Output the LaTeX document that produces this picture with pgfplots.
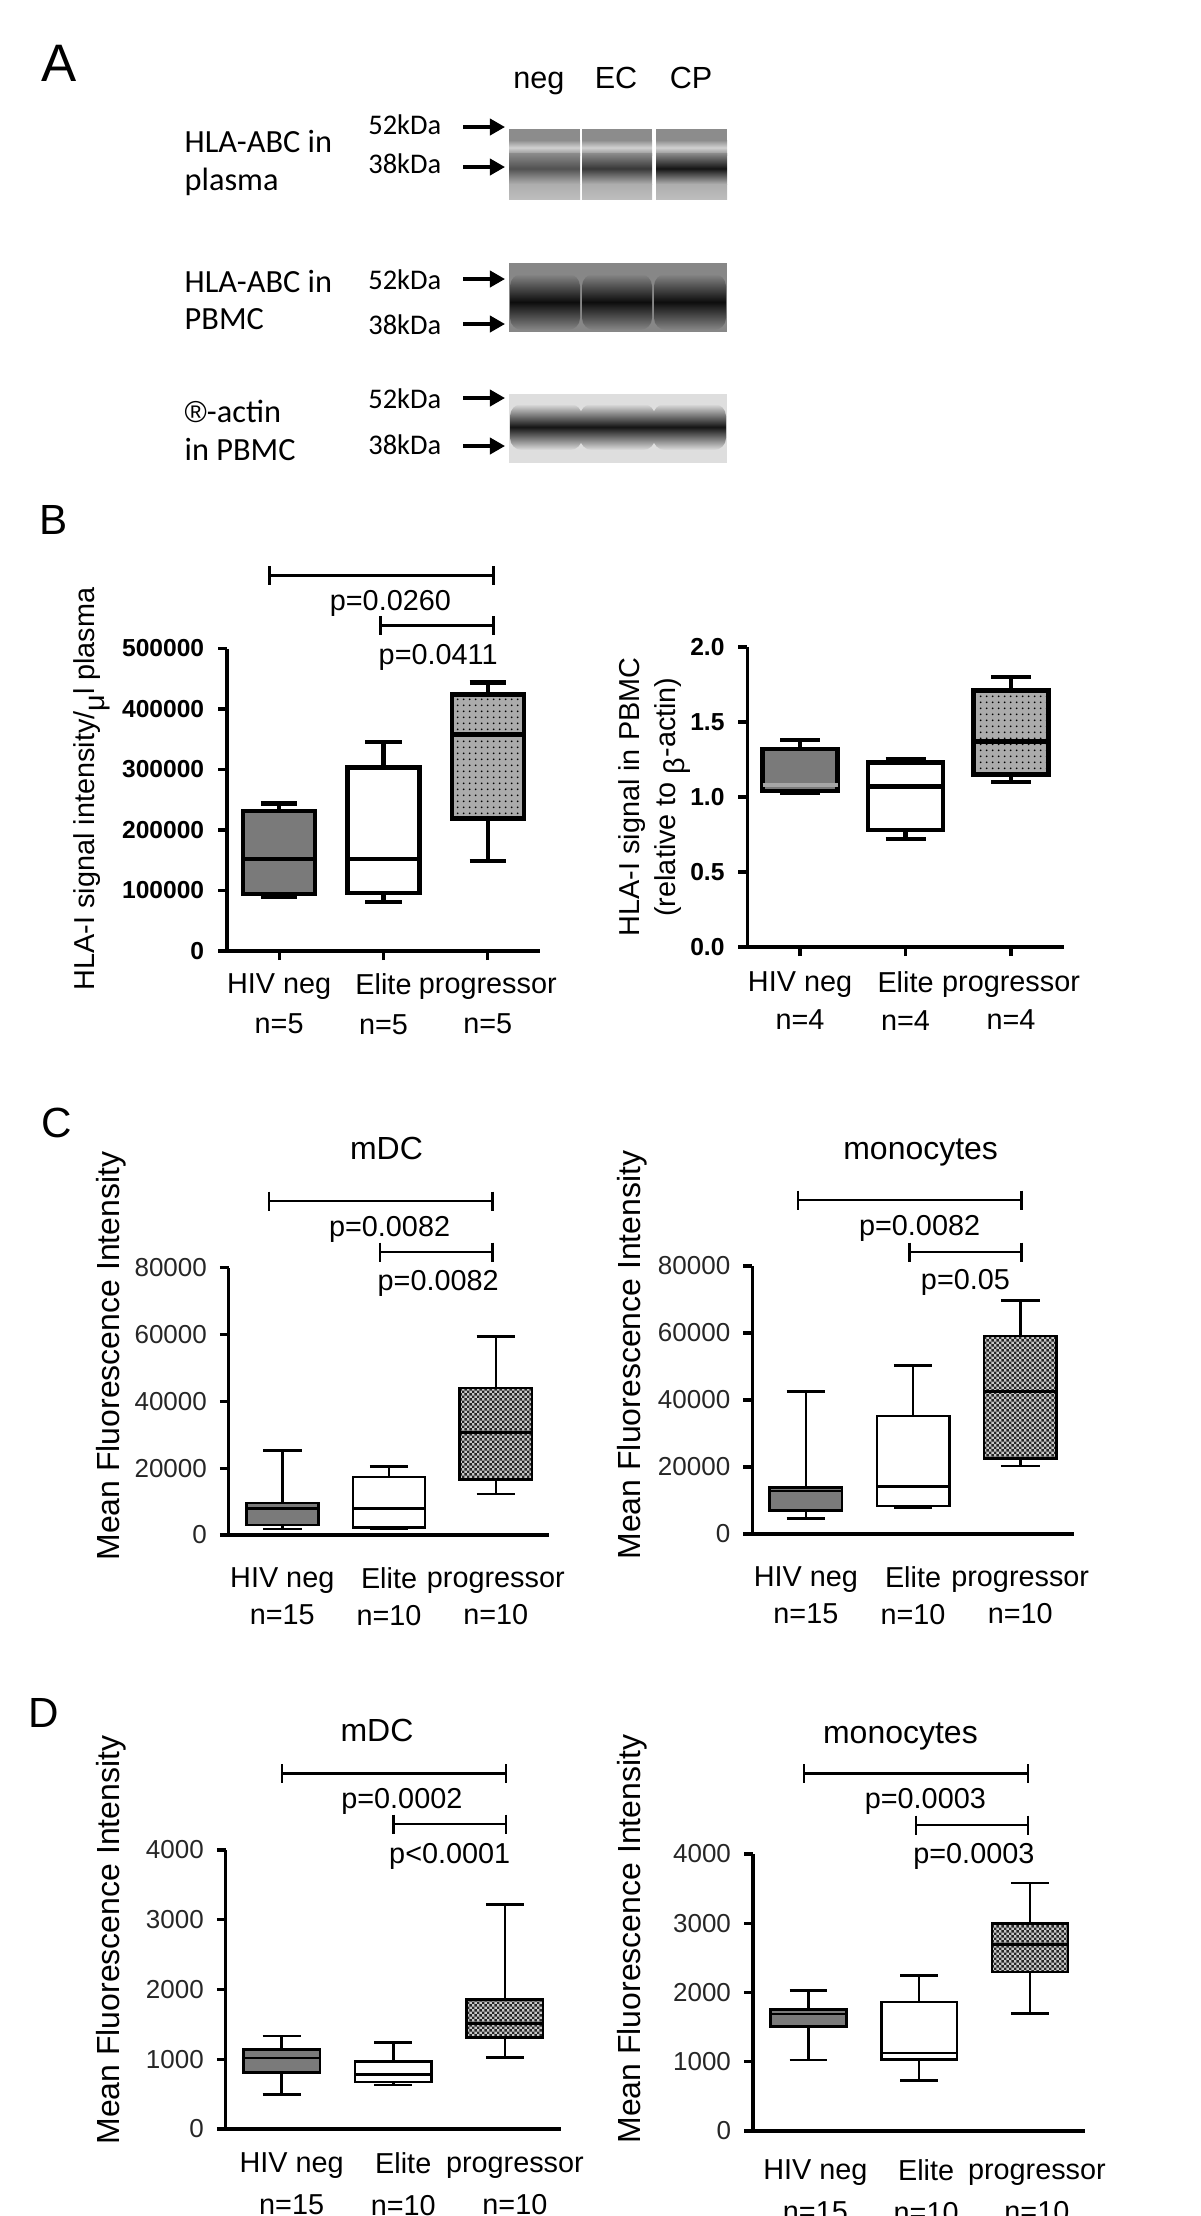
\documentclass[border=0pt]{standalone}
\usepackage{fontspec}
\setmainfont{Liberation Sans}
\newfontfamily\carlito{Carlito}
\usepackage{pgfplots}
\pgfplotsset{compat=1.18}
\usepgfplotslibrary{statistics}
\usetikzlibrary{arrows.meta,patterns.meta}

\tikzdeclarepattern{name=finedots, type=uncolored,
  bounding box={(0,0) and (1.6pt,1.6pt)}, tile size={(1.6pt,1.6pt)},
  code={\fill (0.8pt,0.8pt) circle (0.3pt);}}
\tikzdeclarepattern{name=checker, type=uncolored,
  bounding box={(0,0) and (1.4pt,1.4pt)}, tile size={(1.4pt,1.4pt)},
  code={\fill (0,0) rectangle (0.7pt,0.7pt); \fill (0.7pt,0.7pt) rectangle (1.4pt,1.4pt);}}

\pgfplotsset{
  prism/.style={
    scale only axis, clip=false,
    axis lines=left,
    axis line style={-, line width=0.9pt},
    xmin=0.5, xmax=3.5, ymin=0,
    xtick={1,2,3},
    tick align=outside,
    major tick length=0.09cm,
    tick style={black, line width=0.9pt},
    scaled y ticks=false,
    /pgf/number format/fixed,
    /pgf/number format/1000 sep={},
    /pgf/number format/assume math mode=true,
    xticklabel style={align=center},
    boxplot/draw direction=y,
    boxplot/box extend=0.69,
    boxplot/whisker extend=0.35,
  },
  hiv/.style={draw=black, boxplot/every box/.style={fill=black!52}},
  eli/.style={draw=black, boxplot/every box/.style={fill=white}},
  proB/.style={draw=black, boxplot/every box/.style={fill=black!33,
      postaction={pattern=finedots, pattern color=black}}},
  proC/.style={draw=black, boxplot/every box/.style={fill=black!22,
      postaction={pattern=checker, pattern color=black!85}}},
}

% significance bracket: x1, x2, y (axis units)
\newcommand\brk[3]{%
  \draw[line width=0.75pt] (axis cs:#1,#3) -- (axis cs:#2,#3)
    (axis cs:#1,#3) ++(0cm,0.095cm) -- ++(0cm,-0.19cm)
    (axis cs:#2,#3) ++(0cm,0.095cm) -- ++(0cm,-0.19cm);}
\newcommand\pfont{\fontsize{8.2}{9.8}\selectfont}
\newcommand\lab[2]{\vphantom{Hg}#1\\#2}

\begin{document}
\begin{tikzpicture}
\useasboundingbox (0,0) rectangle (12,-22.16);

% ---------------- panel A ----------------
\node[anchor=base, font=\fontsize{15}{18}\selectfont] at (0.59,-0.81) {A};
\begin{scope}[font=\fontsize{8.7}{10}\selectfont]
  \node[anchor=base] at (5.39,-0.88) {neg};
  \node[anchor=base] at (6.16,-0.88) {EC};
  \node[anchor=base] at (6.91,-0.88) {CP};
\end{scope}
\begin{scope}[font=\carlito\fontsize{9.2}{11}\selectfont, inner sep=0pt]
  \node[anchor=base west] at (1.84,-1.52) {HLA-ABC in};
  \node[anchor=base west] at (1.84,-1.90) {plasma};
  \node[anchor=base west] at (1.84,-2.92) {HLA-ABC in};
  \node[anchor=base west] at (1.84,-3.29) {PBMC};
  \node[anchor=base west] at (1.84,-4.22) {{\rmfamily\fontsize{8.6}{10}\selectfont ®}-actin};
  \node[anchor=base west] at (1.84,-4.60) {in PBMC};
\end{scope}
\begin{scope}[font=\carlito\fontsize{8.1}{10}\selectfont]
  \foreach \y/\t in {1.34/52kDa, 1.73/38kDa, 2.89/52kDa, 3.34/38kDa, 4.08/52kDa, 4.54/38kDa}
    \node[anchor=base east, inner sep=0pt] at (4.42,-\y) {\t};
\end{scope}
\foreach \y in {1.27, 1.67, 2.79, 3.24, 3.98, 4.46}
  \draw[line width=1pt, -{Triangle[length=4.3pt,width=4.6pt]}] (4.63,-\y) -- (5.05,-\y);

% blot 1 (plasma)
\foreach \xa/\xb/\dk in {5.09/5.80/68, 5.82/6.52/78, 6.56/7.27/92} {
  \fill[black!45] (\xa,-1.29) rectangle (\xb,-1.99);
  \shade[top color=black!45, bottom color=black!45, middle color=black!18] (\xa,-1.40) rectangle (\xb,-1.55);
  \shade[top color=black!45, bottom color=black!32, middle color=black!\dk] (\xa,-1.53) rectangle (\xb,-1.84);
  \shade[top color=black!32, bottom color=black!26] (\xa,-1.84) rectangle (\xb,-1.99);
}
% blot 2 (PBMC)
\fill[black!47] (5.09,-2.63) rectangle (7.27,-3.32);
\foreach \xa/\xb in {5.10/5.80, 5.82/6.52, 6.54/7.26}
  \shade[top color=black!47, bottom color=black!47, middle color=black!95, rounded corners=0.12cm]
    (\xa,-2.74) rectangle (\xb,-3.30);
% blot 3 (actin)
\fill[black!13] (5.09,-3.94) rectangle (7.27,-4.63);
\foreach \xa/\xb in {5.10/5.82, 5.80/6.55, 6.53/7.26}
  \shade[top color=black!13, bottom color=black!13, middle color=black!92, rounded corners=0.12cm]
    (\xa,-4.04) rectangle (\xb,-4.50);

% ---------------- panel B ----------------
\node[anchor=base, font=\fontsize{12}{14}\selectfont] at (0.54,-5.34) {B};

\begin{axis}[prism,
  at={(2.27cm,-9.51cm)}, anchor=south west,
  width=3.13cm, height=3.025cm,
  ymax=500000, ytick={0,100000,...,500000},
  yticklabel style={font=\fontsize{7}{8}\selectfont\bfseries},
  xticklabels={{\lab{HIV neg}{n=5}},{\lab{Elite}{n=5}},{\lab{progressor}{n=5}}},
  xticklabel style={font=\fontsize{8.2}{11.3}\selectfont, yshift=0.0cm},
  ylabel={HLA-I signal intensity/\raisebox{-0.6ex}{μ}l plasma},
  ylabel style={at={(axis description cs:-0.432,0.536)}, anchor=center, font=\fontsize{8.2}{9.8}\selectfont},
  line width=1.2pt,
]
\addplot[hiv, boxplot prepared={draw position=1, lower whisker=89300, lower quartile=94800,
  median=152700, upper quartile=231500, upper whisker=243700}] coordinates {};
\addplot[eli, boxplot prepared={draw position=2, lower whisker=81000, lower quartile=96500,
  median=152700, upper quartile=303200, upper whisker=345700}] coordinates {};
\addplot[proB, boxplot prepared={draw position=3, lower whisker=148300, lower quartile=218900,
  median=357800, upper quartile=423900, upper whisker=443800}] coordinates {};
\brk{0.910}{3.056}{620700}
\brk{1.974}{3.056}{538000}
\node[anchor=base, font=\pfont] at (axis cs:2.066,563600) {p=0.0260};
\node[anchor=base, font=\pfont] at (axis cs:2.524,474400) {p=0.0411};
\end{axis}

\begin{axis}[prism,
  at={(7.473cm,-9.47cm)}, anchor=south west,
  width=3.165cm, height=3.00cm,
  ymax=2, ytick={0,0.5,...,2},
  yticklabel style={font=\fontsize{7}{8}\selectfont\bfseries,
    /pgf/number format/fixed zerofill, /pgf/number format/precision=1},
  xticklabels={{\lab{HIV neg}{n=4}},{\lab{Elite}{n=4}},{\lab{progressor}{n=4}}},
  xticklabel style={font=\fontsize{8.2}{10.8}\selectfont, yshift=-0.02cm},
  ylabel={HLA-I signal in PBMC\\(relative to \raisebox{-0.6ex}{β}-actin)},
  ylabel style={at={(axis description cs:-0.293,0.50)}, anchor=center, align=center,
    font=\fontsize{8.2}{10.3}\selectfont},
  line width=1.2pt,
  boxplot/box extend=0.71, boxplot/whisker extend=0.38,
]
\addplot[hiv, boxplot/every median/.style={draw=black!35},
  boxplot prepared={draw position=1, lower whisker=1.03, lower quartile=1.04,
  median=1.08, upper quartile=1.32, upper whisker=1.38}] coordinates {};
\addplot[eli, boxplot prepared={draw position=2, lower whisker=0.72, lower quartile=0.78,
  median=1.07, upper quartile=1.23, upper whisker=1.25}] coordinates {};
\addplot[proB, boxplot prepared={draw position=3, lower whisker=1.10, lower quartile=1.15,
  median=1.37, upper quartile=1.71, upper whisker=1.80}] coordinates {};
\end{axis}

% ---------------- panel C ----------------
\node[anchor=base, font=\fontsize{12}{14}\selectfont] at (0.57,-11.37) {C};

\begin{axis}[prism,
  at={(2.289cm,-15.35cm)}, anchor=south west,
  width=3.203cm, height=2.675cm,
  ymax=80000, ytick={0,20000,...,80000},
  yticklabel style={font=\fontsize{7.4}{8}\selectfont, text=black!85},
  xtick style={draw=none},
  xticklabels={{\lab{HIV neg}{n=15}},{\lab{Elite}{n=10}},{\lab{progressor}{n=10}}},
  xticklabel style={font=\fontsize{8.2}{10.4}\selectfont, yshift=-0.11cm},
  ylabel={Mean Fluorescence Intensity},
  ylabel style={at={(axis description cs:-0.368,0.669)}, anchor=center, font=\fontsize{9.1}{11}\selectfont},
  line width=0.75pt,
  boxplot/box extend=0.675, boxplot/whisker extend=0.36,
]
\addplot[hiv, boxplot prepared={draw position=1, lower whisker=1800, lower quartile=3000,
  median=8000, upper quartile=9600, upper whisker=25300}] coordinates {};
\addplot[eli, boxplot prepared={draw position=2, lower whisker=1800, lower quartile=2300,
  median=8000, upper quartile=17400, upper whisker=20500}] coordinates {};
\addplot[proC, boxplot prepared={draw position=3, lower whisker=12300, lower quartile=16700,
  median=30600, upper quartile=44000, upper whisker=59400}] coordinates {};
\node[anchor=base, font=\fontsize{9.1}{11}\selectfont] at (axis cs:1.976,112450) {mDC};
\brk{0.876}{2.969}{99890}
\brk{1.915}{2.969}{84640}
\node[anchor=base, font=\pfont] at (axis cs:2.005,89420) {p=0.0082};
\node[anchor=base, font=\pfont] at (axis cs:2.460,73270) {p=0.0082};
\end{axis}

\begin{axis}[prism,
  at={(7.523cm,-15.34cm)}, anchor=south west,
  width=3.215cm, height=2.68cm,
  ymax=80000, ytick={0,20000,...,80000},
  yticklabel style={font=\fontsize{7.4}{8}\selectfont, text=black!85},
  xtick style={draw=none},
  xticklabels={{\lab{HIV neg}{n=15}},{\lab{Elite}{n=10}},{\lab{progressor}{n=10}}},
  xticklabel style={font=\fontsize{8.2}{10.4}\selectfont, yshift=-0.11cm},
  ylabel={Mean Fluorescence Intensity},
  ylabel style={at={(axis description cs:-0.373,0.668)}, anchor=center, font=\fontsize{9.1}{11}\selectfont},
  line width=0.75pt,
  boxplot/box extend=0.675, boxplot/whisker extend=0.36,
]
\addplot[hiv, boxplot prepared={draw position=1, lower whisker=4700, lower quartile=7100,
  median=12800, upper quartile=13900, upper whisker=42600}] coordinates {};
\addplot[eli, boxplot prepared={draw position=2, lower whisker=7900, lower quartile=8400,
  median=14100, upper quartile=35200, upper whisker=50300}] coordinates {};
\addplot[proC, boxplot prepared={draw position=3, lower whisker=20300, lower quartile=22600,
  median=42600, upper quartile=59100, upper whisker=69800}] coordinates {};
\node[anchor=base, font=\fontsize{9.1}{11}\selectfont] at (axis cs:2.071,111940) {monocytes};
\brk{0.925}{3.014}{99700}
\brk{1.964}{3.014}{84180}
\node[anchor=base, font=\pfont] at (axis cs:2.061,88960) {p=0.0082};
\node[anchor=base, font=\pfont] at (axis cs:2.489,73130) {p=0.05};
\end{axis}

% ---------------- panel D ----------------
\node[anchor=base, font=\fontsize{12}{14}\selectfont] at (0.44,-17.27) {D};

\begin{axis}[prism,
  at={(2.258cm,-21.29cm)}, anchor=south west,
  width=3.349cm, height=2.79cm,
  ymax=4000, ytick={0,1000,...,4000},
  yticklabel style={font=\fontsize{7.4}{8}\selectfont, text=black!85},
  xtick style={draw=none},
  xticklabels={{\lab{HIV neg}{n=15}},{\lab{Elite}{n=10}},{\lab{progressor}{n=10}}},
  xticklabel style={font=\fontsize{8.2}{11.9}\selectfont, yshift=-0.02cm, xshift=0.1cm},
  ylabel={Mean Fluorescence Intensity},
  ylabel style={at={(axis description cs:-0.343,0.677)}, anchor=center, font=\fontsize{9.1}{11}\selectfont},
  line width=0.75pt,
  boxplot/box extend=0.685, boxplot/whisker extend=0.34,
]
\addplot[hiv, boxplot prepared={draw position=1, lower whisker=494, lower quartile=810,
  median=1019, upper quartile=1141, upper whisker=1335}] coordinates {};
\addplot[eli, boxplot prepared={draw position=2, lower whisker=632, lower quartile=673,
  median=785, upper quartile=968, upper whisker=1243}] coordinates {};
\addplot[proC, boxplot prepared={draw position=3, lower whisker=1029, lower quartile=1310,
  median=1513, upper quartile=1860, upper whisker=3220}] coordinates {};
\node[anchor=base, font=\fontsize{9.1}{11}\selectfont] at (axis cs:1.854,5563) {mDC};
\brk{1.003}{3.009}{5097}
\brk{2.001}{3.009}{4373}
\node[anchor=base, font=\pfont] at (axis cs:2.077,4602) {p=0.0002};
\node[anchor=base, font=\pfont] at (axis cs:2.506,3814) {p<0.0001};
\end{axis}

\begin{axis}[prism,
  at={(7.53cm,-21.31cm)}, anchor=south west,
  width=3.323cm, height=2.77cm,
  ymax=4000, ytick={0,1000,...,4000},
  yticklabel style={font=\fontsize{7.4}{8}\selectfont, text=black!85},
  xtick style={draw=none},
  xticklabels={{\lab{HIV neg}{n=15}},{\lab{Elite}{n=10}},{\lab{progressor}{n=10}}},
  xticklabel style={font=\fontsize{8.2}{11.9}\selectfont, yshift=-0.07cm, xshift=0.07cm},
  ylabel={Mean Fluorescence Intensity},
  ylabel style={at={(axis description cs:-0.363,0.693)}, anchor=center, font=\fontsize{9.1}{11}\selectfont},
  line width=0.75pt,
  boxplot/box extend=0.685, boxplot/whisker extend=0.34,
]
\addplot[hiv, boxplot prepared={draw position=1, lower whisker=1026, lower quartile=1513,
  median=1692, upper quartile=1759, upper whisker=2031}] coordinates {};
\addplot[eli, boxplot prepared={draw position=2, lower whisker=733, lower quartile=1031,
  median=1128, upper quartile=1862, upper whisker=2246}] coordinates {};
\addplot[proC, boxplot prepared={draw position=3, lower whisker=1697, lower quartile=2297,
  median=2697, upper quartile=3000, upper whisker=3579}] coordinates {};
\node[anchor=base, font=\fontsize{9.1}{11}\selectfont] at (axis cs:1.831,5603) {monocytes};
\brk{0.960}{2.982}{5162}
\brk{1.972}{2.982}{4419}
\node[anchor=base, font=\pfont] at (axis cs:2.056,4664) {p=0.0003};
\node[anchor=base, font=\pfont] at (axis cs:2.494,3870) {p=0.0003};
\end{axis}
\end{tikzpicture}
\end{document}
